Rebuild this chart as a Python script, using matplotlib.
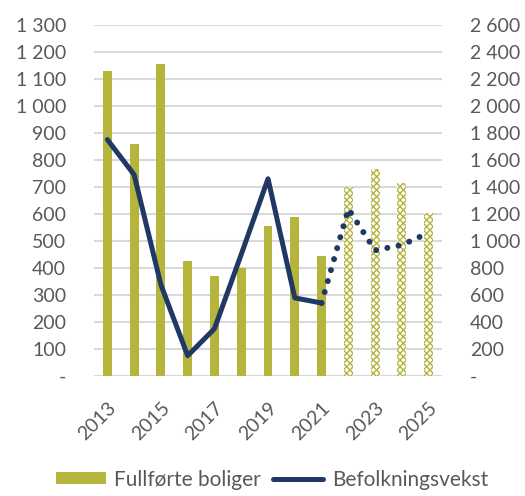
import matplotlib
matplotlib.use("Agg")
import matplotlib.pyplot as plt
from matplotlib.patches import Patch
from matplotlib.lines import Line2D

years = list(range(2013, 2026))
boliger = [1130, 860, 1155, 425, 370, 400, 555, 590, 445, 700, 765, 715, 605]
n_actual = 9  # 2013-2021 are actual, rest forecast

line_years = list(range(2013, 2022))
befolkning = [1750, 1490, 675, 150, 350, 900, 1460, 578, 540]
prog_years = [2021, 2022, 2023, 2024, 2025]
befolkning_prog = [540, 1237, 930, 970, 1060]

left_ticks = list(range(0, 1301, 100))
right_ticks = list(range(0, 2601, 200))

olive = "#b5b43c"
navy = "#1f3864"
grid = "#d9d9d9"
text_color = "#595959"

plt.rcParams["font.family"] = ["Lato", "DejaVu Sans"]

def fmt(v):
    return "-" if v == 0 else f"{v:,}".replace(",", " ")

fig = plt.figure(figsize=(5.25, 4.96), dpi=100)
ax = fig.add_axes([0.179, 0.242, 0.663, 0.708])
ax2 = ax.twinx()

ax.bar(years[:n_actual], boliger[:n_actual], width=0.33, color=olive, zorder=2)
ax.bar(years[n_actual:], boliger[n_actual:], width=0.33, facecolor="white",
       edgecolor=olive, hatch="xxxxx", linewidth=0, zorder=2)

ax2.plot(line_years, befolkning, color=navy, linewidth=3.6,
         solid_capstyle="round", solid_joinstyle="round", zorder=3)
ax2.plot(prog_years, befolkning_prog, color=navy, linewidth=4.3,
         linestyle=(0, (0.01, 1.9)), dash_capstyle="round", zorder=3)

ax.set_xlim(2012.5, 2025.5)
ax.set_ylim(0, 1300)
ax2.set_ylim(0, 2600)
ax.set_yticks(left_ticks)
ax.set_yticklabels([fmt(v) for v in left_ticks])
ax2.set_yticks(right_ticks)
ax2.set_yticklabels([fmt(v) for v in right_ticks])
ax.set_xticks(years[::2])
ax.set_xticklabels([str(y) for y in years[::2]], rotation=45, ha="right",
                   rotation_mode="anchor")

ax.grid(axis="y", color=grid, linewidth=1.5, zorder=0)
ax.set_axisbelow(True)
for a in (ax, ax2):
    for s in a.spines.values():
        s.set_visible(False)
    a.tick_params(length=0, labelsize=14, colors=text_color)
ax.tick_params(axis="y", pad=20)
ax2.tick_params(axis="y", pad=20)
ax.tick_params(axis="x", pad=17)

handles = [Patch(facecolor=olive, edgecolor="none"),
           Line2D([0], [0], color=navy, linewidth=3.6, solid_capstyle="round")]
fig.legend(handles, ["Fullførte boliger", "Befolkningsvekst"], loc="lower center",
           bbox_to_anchor=(0.518, -0.025), ncol=2, frameon=False, fontsize=15,
           handlelength=2.4, handleheight=0.5, handletextpad=0.4,
           columnspacing=0.6, labelcolor=text_color)

fig.savefig("out.png", dpi=100)
